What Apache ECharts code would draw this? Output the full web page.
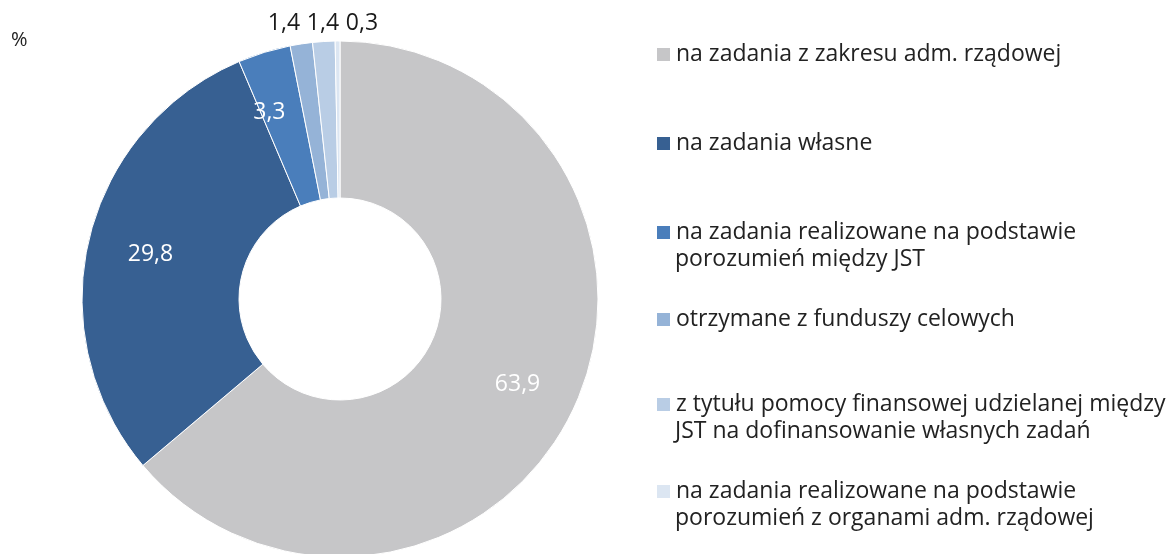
<!DOCTYPE html>
<html>
<head>
<meta charset="utf-8">
<script src="https://cdn.jsdelivr.net/npm/echarts@6/dist/echarts.min.js"></script>
<style>
  html, body { margin: 0; padding: 0; background: #fff; }
  #chart { width: 1176px; height: 554px; }
</style>
</head>
<body>
<div id="chart"></div>
<script>
// data
const categories = [
  'na zadania z zakresu adm. rządowej',
  'na zadania własne',
  'na zadania realizowane na podstawie\nporozumień między JST',
  'otrzymane z funduszy celowych',
  'z tytułu pomocy finansowej udzielanej między\nJST na dofinansowanie własnych zadań',
  'na zadania realizowane na podstawie\nporozumień z organami adm. rządowej'
];
const values = [63.9, 29.8, 3.3, 1.4, 1.4, 0.3];
const colors = ['#c6c6c8', '#376092', '#4a7ebb', '#95b3d7', '#b9cde5', '#dce6f2'];

// layout bits
const legendTops = [38, 127, 216, 303, 388, 475];
const labelNudge = [[12, 9], [-12, -2], [-17, -12]]; // inside labels sit a bit further out
const outsideLabelX = [284, 323, 362];               // small slices: labels in a row above the ring

const font = '"Open Sans", sans-serif';
const chart = echarts.init(document.getElementById('chart'));

const pieData = values.map((v, i) => ({
  name: categories[i],
  value: v,
  itemStyle: { color: colors[i] },
  label: i < 3
    ? { position: 'inside', color: '#fff' }
    : { position: 'outside', color: '#1a1a1a' }
}));

// one legend per entry so the spacing follows the picture; second lines via graphic
const legends = categories.map((c, i) => ({
  data: [c],
  orient: 'vertical',
  left: 650,
  top: legendTops[i],
  itemWidth: 15,
  itemHeight: 15,
  itemGap: 0,
  icon: 'rect',
  selectedMode: false,
  formatter: n => n.split('\n')[0],
  textStyle: { fontFamily: font, fontSize: 23, color: '#222' }
}));

const extraLines = [];
categories.forEach((c, i) => {
  const parts = c.split('\n');
  if (parts.length > 1) {
    extraLines.push({
      type: 'text',
      left: 675,
      top: legendTops[i] + 32,
      style: { text: parts[1], font: '23px ' + font, fill: '#222' }
    });
  }
});

chart.setOption({
  animation: false,
  legend: legends,
  graphic: [
    { type: 'text', left: 11, top: 30, style: { text: '%', font: '20px ' + font, fill: '#222' } }
  ].concat(extraLines),
  series: [{
    type: 'pie',
    center: [340, 299],
    radius: [101, 258],
    startAngle: 90,
    clockwise: true,
    avoidLabelOverlap: false,
    itemStyle: { borderColor: '#fff', borderWidth: 1 },
    label: {
      fontFamily: font,
      fontSize: 23,
      formatter: p => String(p.value).replace('.', ',')
    },
    labelLine: { show: false, length: 4, length2: 0 },
    labelLayout: p => {
      const i = p.dataIndex;
      if (i < 3) return { dx: labelNudge[i][0], dy: labelNudge[i][1] };
      return { x: outsideLabelX[i - 3], y: 23, align: 'center', verticalAlign: 'middle' };
    },
    data: pieData
  }]
});
</script>
</body>
</html>
